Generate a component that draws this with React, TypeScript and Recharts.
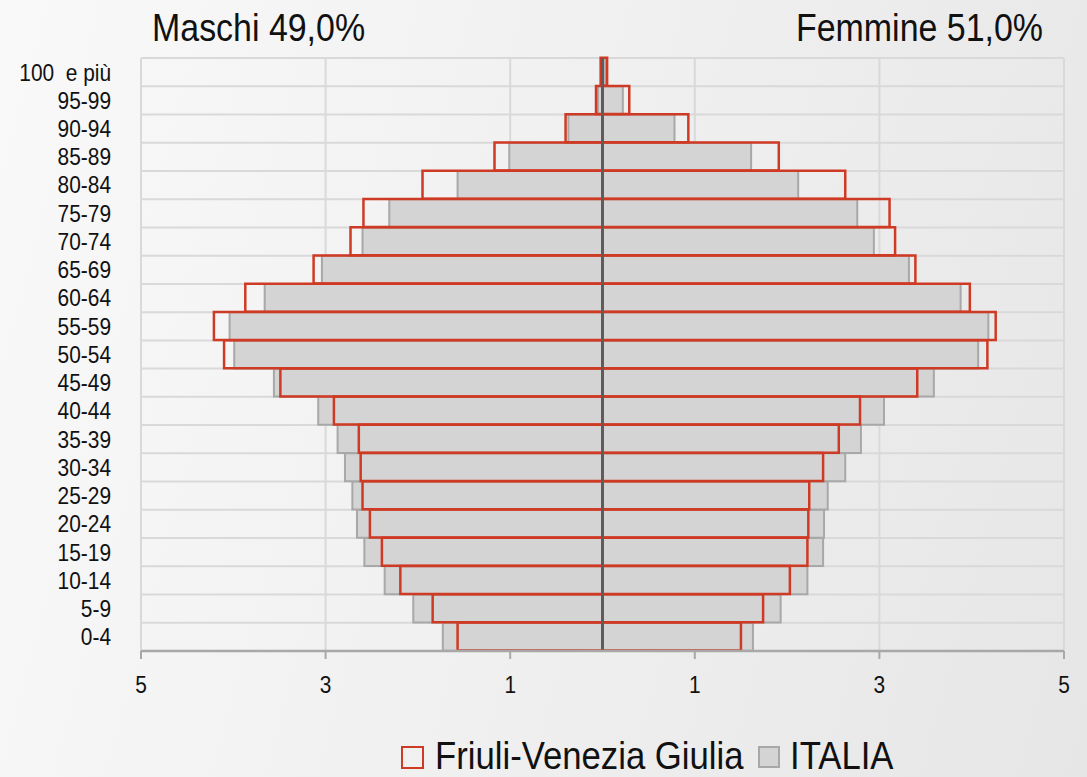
import { Bar, BarChart, CartesianGrid, ReferenceLine, XAxis, YAxis } from "recharts";

// age classes, bottom to top
const ageGroups = [
  "0-4", "5-9", "10-14", "15-19", "20-24", "25-29", "30-34", "35-39", "40-44", "45-49",
  "50-54", "55-59", "60-64", "65-69", "70-74", "75-79", "80-84", "85-89", "90-94", "95-99", "100  e più"
];

// % of population, males
const itaMale = [1.73, 2.05, 2.36, 2.58, 2.66, 2.71, 2.79, 2.87, 3.08, 3.56, 3.99, 4.04, 3.66, 3.04, 2.6, 2.31, 1.57, 1.01, 0.37, 0.05, 0.01];
const fvgMale = [1.57, 1.84, 2.19, 2.39, 2.52, 2.6, 2.62, 2.64, 2.91, 3.49, 4.1, 4.21, 3.87, 3.13, 2.73, 2.59, 1.95, 1.17, 0.4, 0.07, 0.02];

// % of population, females
const itaFemale = [1.63, 1.93, 2.22, 2.39, 2.4, 2.44, 2.63, 2.8, 3.05, 3.59, 4.07, 4.18, 3.88, 3.32, 2.94, 2.76, 2.12, 1.61, 0.78, 0.22, 0.03];
const fvgFemale = [1.5, 1.74, 2.03, 2.22, 2.23, 2.24, 2.39, 2.56, 2.79, 3.41, 4.17, 4.26, 3.98, 3.39, 3.17, 3.11, 2.63, 1.91, 0.93, 0.29, 0.05];

const xTicks = [-5, -3, -1, 1, 3, 5];
const titleLeft = "Maschi 49,0%";
const titleRight = "Femmine 51,0%";
const regionName = "Friuli-Venezia Giulia";
const countryName = "ITALIA";

const RED = "#cf3a25";
const GRAY_FILL = "#d4d4d4";
const GRAY_STROKE = "#a8a8a8";
const FONT = "'Liberation Sans', Arial, sans-serif";
const SQUEEZE = 0.87;

const data = ageGroups.map((age, i) => ({
  age,
  ita: [-itaMale[i], itaFemale[i]],
  fvg: [-fvgMale[i], fvgFemale[i]]
}));

function AgeTick({ x, y, payload }: any) {
  return (
    <g transform={`translate(${x},${y}) scale(${SQUEEZE},1)`}>
      <text textAnchor="end" dy="0.35em" fontSize={24} fill="#111" fontFamily={FONT} style={{ whiteSpace: "pre" }}>
        {payload.value}
      </text>
    </g>
  );
}

function ValueTick({ x, y, payload }: any) {
  return (
    <g transform={`translate(${x},${y}) scale(${SQUEEZE},1)`}>
      <text textAnchor="middle" y={34} fontSize={24} fill="#111" fontFamily={FONT}>
        {Math.abs(payload.value)}
      </text>
    </g>
  );
}

function Squeezed({ x, y, size, anchor, squeeze = SQUEEZE, children }: any) {
  return (
    <g transform={`translate(${x},${y}) scale(${squeeze},1)`}>
      <text textAnchor={anchor} fontSize={size} fill="#111" fontFamily={FONT}>
        {children}
      </text>
    </g>
  );
}

export default function App() {
  return (
    <div
      style={{
        position: "absolute",
        left: 0,
        top: 0,
        width: 1087,
        height: 777,
        background: "linear-gradient(105deg, #f9f9f9 0%, #eeeeee 60%, #e6e6e6 100%)",
        overflow: "hidden"
      }}
    >
      <BarChart
        width={1087}
        height={777}
        data={data}
        layout="vertical"
        barCategoryGap={0}
        barGap="-100%"
        margin={{ top: 58, right: 23, bottom: 76, left: 0 }}
      >
        <CartesianGrid
          stroke="#d9d9d9"
          strokeWidth={2}
          horizontalCoordinatesGenerator={({ offset }: any) =>
            Array.from({ length: ageGroups.length + 1 }, (_, i) => offset.top + (i * offset.height) / ageGroups.length)
          }
        />
        <XAxis
          type="number"
          domain={[-5, 5]}
          ticks={xTicks}
          height={50}
          tickSize={8}
          tickMargin={0}
          axisLine={{ stroke: GRAY_STROKE, strokeWidth: 2.5 }}
          tickLine={{ stroke: GRAY_STROKE, strokeWidth: 2 }}
          tick={<ValueTick />}
        />
        <YAxis
          type="category"
          dataKey="age"
          reversed
          width={141}
          tickSize={0}
          tickMargin={30}
          axisLine={false}
          tickLine={false}
          interval={0}
          tick={<AgeTick />}
        />
        <Bar dataKey="ita" name={countryName} fill={GRAY_FILL} stroke={GRAY_STROKE} strokeWidth={2} isAnimationActive={false} />
        <Bar dataKey="fvg" name={regionName} fill="none" stroke={RED} strokeWidth={2.5} isAnimationActive={false} />
        <ReferenceLine x={0} stroke="#615b5b" strokeWidth={3} />
      </BarChart>

      <svg width={1087} height={777} style={{ position: "absolute", left: 0, top: 0, pointerEvents: "none" }}>
        <Squeezed x={152} y={41} size={39} anchor="start">{titleLeft}</Squeezed>
        <Squeezed x={1043} y={41} size={39} anchor="end">{titleRight}</Squeezed>

        <rect x={402} y={747} width={21} height={21} fill="none" stroke={RED} strokeWidth={2} />
        <Squeezed x={435} y={768.5} size={39} squeeze={0.89} anchor="start">{regionName}</Squeezed>
        <rect x={759} y={747} width={20} height={20} fill={GRAY_FILL} stroke={GRAY_STROKE} strokeWidth={2} />
        <Squeezed x={790} y={768.5} size={39} squeeze={0.89} anchor="start">{countryName}</Squeezed>
      </svg>
    </div>
  );
}
